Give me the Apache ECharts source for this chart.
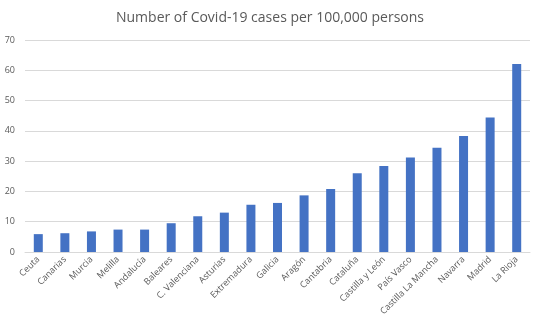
<!DOCTYPE html>
<html><head><meta charset="utf-8">
<script src="https://cdn.jsdelivr.net/npm/echarts@6/dist/echarts.min.js"></script>
<style>html,body{margin:0;padding:0;background:#fff}#c{width:540px;height:328px}</style>
</head><body><div id="c"></div>
<script>
const categories = ["Ceuta","Canarias","Murcia","Melilla","Andalucía","Baleares","C. Valenciana","Asturias","Extremadura","Galicia","Aragón","Cantabria","Cataluña","Castilla y León","País Vasco","Castilla La Mancha","Navarra","Madrid","La Rioja"];
const cases = [5.9,6.2,6.8,7.4,7.4,9.5,11.8,13.0,15.6,16.2,18.7,20.8,26.0,28.4,31.2,34.4,38.3,44.4,62.1];
const chart = echarts.init(document.getElementById('c'));
const font = '"Open Sans", "Liberation Sans", sans-serif';
chart.setOption({
  animation:false,
  title:{text:'Number of Covid-19 cases per 100,000 persons',left:'center',top:6,
    textStyle:{color:'#595959',fontSize:14,fontWeight:'normal',fontFamily:font}},
  grid:{left:25,right:10,top:40,bottom:76},
  xAxis:{type:'category',data:categories,
    axisLine:{lineStyle:{color:'#d9d9d9'}},axisTick:{show:false},
    axisLabel:{rotate:45,interval:0,color:'#595959',fontSize:9,fontFamily:font,margin:6}},
  yAxis:{type:'value',min:0,max:70,interval:10,
    axisLine:{show:false},axisTick:{show:false},
    splitLine:{lineStyle:{color:'#d9d9d9'}},
    axisLabel:{color:'#595959',fontSize:9,fontFamily:font,margin:10}},
  series:[{type:'bar',data:cases,barWidth:9,itemStyle:{color:'#4472C4'}}]
});
</script></body></html>
